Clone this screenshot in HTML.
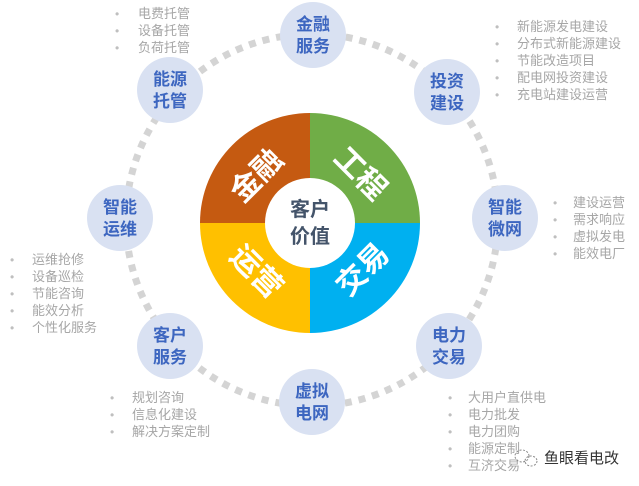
<!DOCTYPE html>
<html><head><meta charset="utf-8"><style>
body{margin:0;background:#fff;width:639px;height:486px;overflow:hidden}
svg{display:block;font-family:"Liberation Sans","Noto Sans CJK SC",sans-serif}
.n{fill:#3d66c0;font-size:17px;font-weight:bold;text-anchor:middle}
.l{fill:#a6a6a6;font-size:13px}
.b{fill:#bfbfbf;font-size:12px}
.s{fill:#fff;font-size:30px;font-weight:bold;text-anchor:middle}
</style></head><body>
<svg width="639" height="486" viewBox="0 0 639 486">
<circle cx="312" cy="220" r="186" fill="none" stroke="#d4d4d4" stroke-width="7" stroke-dasharray="7 7"/>
<path d="M310 223 L310 113 A110 110 0 0 1 420 223 Z" fill="#70ad47"/>
<path d="M310 223 L420 223 A110 110 0 0 1 310 333 Z" fill="#00b0f0"/>
<path d="M310 223 L310 333 A110 110 0 0 1 200 223 Z" fill="#ffc000"/>
<path d="M310 223 L200 223 A110 110 0 0 1 310 113 Z" fill="#c55a11"/>
<circle cx="310" cy="223" r="45" fill="#fff"/>
<text x="310" y="216" text-anchor="middle" font-size="20" font-weight="bold" fill="#44546a">客户</text>
<text x="310" y="243" text-anchor="middle" font-size="20" font-weight="bold" fill="#44546a">价值</text>
<text class="s" transform="translate(256,175) rotate(-45)" y="11">金融</text>
<text class="s" transform="translate(361,173) rotate(45)" y="11">工程</text>
<text class="s" transform="translate(257,271) rotate(45)" y="11">运营</text>
<text class="s" transform="translate(362,269) rotate(-45)" y="11">交易</text>
<g fill="#d9e1f2">
<circle cx="313" cy="35" r="33"/><circle cx="447" cy="92" r="33"/><circle cx="505" cy="218" r="33"/>
<circle cx="449" cy="346" r="33"/><circle cx="312" cy="402" r="33"/><circle cx="170" cy="346" r="33"/>
<circle cx="120" cy="218" r="33"/><circle cx="170" cy="90" r="33"/>
</g>
<g class="n">
<text x="313" y="30">金融</text><text x="313" y="52">服务</text>
<text x="447" y="87">投资</text><text x="447" y="109">建设</text>
<text x="505" y="213">智能</text><text x="505" y="235">微网</text>
<text x="449" y="341">电力</text><text x="449" y="363">交易</text>
<text x="312" y="397">虚拟</text><text x="312" y="419">电网</text>
<text x="170" y="341">客户</text><text x="170" y="363">服务</text>
<text x="120" y="213">智能</text><text x="120" y="235">运维</text>
<text x="170" y="85">能源</text><text x="170" y="107">托管</text>
</g>
<g class="l">
<text x="138" y="18">电费托管</text><text x="138" y="35">设备托管</text><text x="138" y="52">负荷托管</text>
<text x="517" y="31">新能源发电建设</text><text x="517" y="48">分布式新能源建设</text><text x="517" y="65">节能改造项目</text><text x="517" y="82">配电网投资建设</text><text x="517" y="99">充电站建设运营</text>
<text x="573" y="207">建设运营</text><text x="573" y="224">需求响应</text><text x="573" y="241">虚拟发电</text><text x="573" y="258">能效电厂</text>
<text x="32" y="264">运维抢修</text><text x="32" y="281">设备巡检</text><text x="32" y="298">节能咨询</text><text x="32" y="315">能效分析</text><text x="32" y="332">个性化服务</text>
<text x="132" y="402">规划咨询</text><text x="132" y="419">信息化建设</text><text x="132" y="436">解决方案定制</text>
<text x="468" y="402">大用户直供电</text><text x="468" y="419">电力批发</text><text x="468" y="436">电力团购</text><text x="468" y="453">能源定制</text><text x="468" y="470">互济交易</text>
</g>
<g class="b">
<text x="115" y="18">•</text><text x="115" y="35">•</text><text x="115" y="52">•</text>
<text x="495" y="31">•</text><text x="495" y="48">•</text><text x="495" y="65">•</text><text x="495" y="82">•</text><text x="495" y="99">•</text>
<text x="553" y="207">•</text><text x="553" y="224">•</text><text x="553" y="241">•</text><text x="553" y="258">•</text>
<text x="10" y="264">•</text><text x="10" y="281">•</text><text x="10" y="298">•</text><text x="10" y="315">•</text><text x="10" y="332">•</text>
<text x="110" y="402">•</text><text x="110" y="419">•</text><text x="110" y="436">•</text>
<text x="448" y="402">•</text><text x="448" y="419">•</text><text x="448" y="436">•</text><text x="448" y="453">•</text><text x="448" y="470">•</text>
</g>
<g fill="none" stroke="#888" stroke-width="1" stroke-dasharray="2 1.5">
<ellipse cx="522" cy="456" rx="7" ry="6"/><ellipse cx="531" cy="461" rx="6" ry="5"/>
</g>
<text x="544" y="463" font-size="15" fill="#333">鱼眼看电改</text>
</svg>
</body></html>
